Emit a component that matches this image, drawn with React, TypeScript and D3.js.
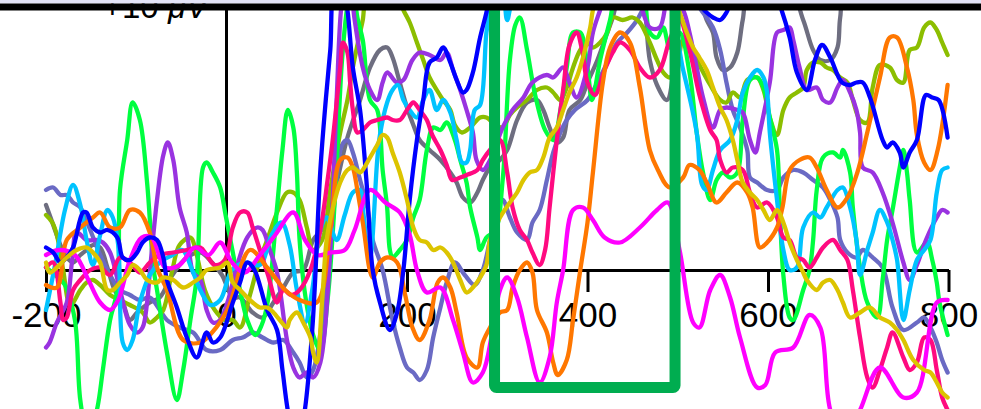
import React, { useEffect, useRef } from "react";
import * as d3 from "d3";

type Pt = [number, number]; // [ms, µV]

const timeTicks = [-200, 0, 200, 400, 600, 800];
const scaleLabel = "+10 ";
const scaleUnit = "μV";
const boxWindow = [297, 497];
const boxFloor = -4.7;

const gray: Pt[] = [[-200,2.6],[-192,1.8],[-184,1],[-177,0.5],[-170,0.3],[-162,0.6],[-155,0.8],[-148,1],[-140,0.9],[-132,0.1],[-124,-0.8],[-115,-1.3],[-107,-2],[-99,-1.7],[-85,-1.3],[-74,-1.1],[-60,-0.2],[-44,0.5],[-29,0.7],[-16,0.3],[-5,-0.2],[7,-1.1],[15,-1.1],[29,-1.7],[40,-1.9],[52,-1.3],[63,-0.7],[74,-0.1],[85,0],[96,1.2],[107,1.7],[120,3.2],[134,5.3],[148,6.8],[159,8.1],[170,8.8],[178,8.9],[184,8.5],[192,7.5],[200,6.5],[207,5.8],[214,5.2],[225,4.8],[237,4.4],[248,3.9],[255,3.5],[262,2.9],[270,2.7],[278,3.1],[284,3.6],[292,4.1],[303,4.4],[311,4.8],[322,6],[333,6.7],[344,6.8],[351,6.4],[358,5.7],[366,5.1],[373,5.3],[380,6.4],[392,6.8],[400,7.5],[411,8.4],[422,9.5],[428,10.1],[441,11.6],[458,11.2],[469,8.4],[477,7.4],[488,6.8],[497,8.4],[508,11.2],[524,10.8],[532,10],[539,9.5],[543,8.5],[550,8],[558,8.1],[566,8.7],[572,10],[580,11.2],[624,11.2],[639,10],[650,8.8],[658,8.4],[669,8.4],[677,8.9],[680,10.1],[689,11.6],[799,12]];

const slate: Pt[] = [[-200,3.2],[-192,3.3],[-184,3],[-177,3],[-170,2.7],[-162,2.5],[-151,1.6],[-140,0.6],[-129,-0.2],[-118,-0.8],[-107,-1],[-96,-1.2],[-85,-1.1],[-74,-1.6],[-66,-2],[-52,-2.3],[-37,-2.5],[-22,-3.2],[-7,-3.2],[7,-2.8],[18,-2.7],[29,-2.5],[40,-2.7],[52,-2.9],[63,-2.8],[74,-3.3],[81,-3.7],[89,-4.3],[96,-4],[106,-2],[115,0.8],[122,3.6],[128,5],[134,5.2],[140,4.7],[148,3.6],[156,2.5],[162,1.2],[173,0],[184,-2],[192,-3.1],[200,-3.9],[207,-4.1],[214,-4.4],[222,-4],[229,-2.7],[237,-1.5],[244,-0.5],[253,0.3],[264,-0.2],[275,-0.6],[284,0],[292,1.2],[300,2.4],[306,2.8],[314,2.1],[322,1.5],[333,1.2],[339,1.9],[347,2.4],[355,3.6],[362,4.7],[370,5.5],[377,6],[386,6.4],[400,6.8],[411,7.5],[422,8.3],[433,9.1],[444,9.5],[455,10],[464,10.6],[480,11.4],[508,11.4],[524,10.5],[539,9.7],[547,8.8],[554,7.5],[561,6.4],[569,5.7],[577,4.8],[580,3.7],[588,3.5],[599,3.2],[610,3.2],[617,3.7],[628,4],[639,3.9],[650,3.6],[661,3.3],[669,2.8],[677,2.1],[680,1.2],[688,0.7],[698,0.5],[705,0.8],[716,0.5],[727,0.1],[738,-1.5],[750,-2.4],[765,-2.1],[773,-1.9],[780,-2.3],[787,-2.9],[793,-3.6],[799,-4.1]];

const olive: Pt[] = [[-200,2.2],[-193,1.9],[-188,1.4],[-181,0],[-173,-1.4],[-162,-0.8],[-155,-0.5],[-148,-0.4],[-140,-0.6],[-129,-1],[-118,-1.2],[-107,-1.4],[-93,-1.7],[-85,-2.1],[-77,-1.9],[-70,-1.6],[-60,0],[-52,1],[-40,1.3],[-33,0.6],[-24,-0.8],[-13,-1.6],[-2,-2],[7,-2],[15,-2.3],[26,-1],[35,0.2],[45,1.2],[56,2.3],[67,3.1],[74,3.1],[81,2.8],[89,1.7],[96,0.8],[106,1.2],[115,3.2],[126,5.5],[134,6.8],[140,8.1],[148,9.5],[151,10],[159,11.6],[187,11.2],[196,10.4],[203,9.9],[211,9.1],[218,8.4],[225,7.7],[233,7.2],[240,6.8],[248,6.4],[253,5.8],[261,5.5],[270,5.7],[281,6.1],[288,6.1],[298,5.8],[306,5.7],[314,6.2],[322,6.5],[333,6.8],[344,7.2],[355,7.3],[362,7.1],[370,6.8],[377,7.3],[384,8.1],[392,8.8],[400,9.1],[406,8.9],[414,9.1],[422,9.5],[428,10.1],[439,10],[450,10.1],[458,9.9],[469,9.1],[477,8.4],[484,7.9],[491,7.7],[499,8.1],[506,9.2],[513,9],[524,8.2],[536,7.4],[547,6.8],[554,6.7],[561,7.1],[569,6.9],[577,7.6],[588,7.7],[595,7.2],[602,6.1],[610,5.4],[617,6.4],[624,6.9],[632,7.1],[639,7.3],[643,8],[650,8.3],[658,8.3],[665,8.1],[672,8],[680,7.7],[688,7.5],[694,6.8],[702,6],[710,5.9],[716,7.3],[724,8.2],[735,8.1],[743,7.6],[750,7.5],[757,8.8],[765,8.9],[773,9.7],[780,9.9],[787,9.6],[793,9.1],[799,8.6]];

const green: Pt[] = [[-200,0.1],[-190,-0.2],[-179,-0.6],[-168,-2],[-162,-5.2],[-153,-6.8],[-143,-5.5],[-137,-4],[-129,-2],[-121,-0.8],[-118,3.2],[-110,5.2],[-104,6.7],[-96,6],[-88,3.5],[-81,0.1],[-77,-0.8],[-66,-3.3],[-55,-5.2],[-48,-4],[-40,-2],[-33,-0.3],[-26,4.1],[-22,4.3],[-15,3.9],[-7,3.3],[-1,2.2],[7,0.7],[15,-0.8],[23,-2],[32,-2.6],[39,-2.2],[46,-1.2],[56,2.5],[62,4.8],[68,6.4],[74,5.7],[78,3.9],[81,1.2],[88,-1.2],[96,-2.6],[104,-3.2],[112,-1.2],[120,2.8],[128,8.4],[134,10.6],[139,11.6],[145,10.1],[151,9.2],[159,6.8],[167,6.4],[173,4],[178,2.5],[181,0.8],[184,0.5],[192,0.8],[200,1.2],[207,2.1],[214,2.8],[222,4.8],[229,5.7],[237,5.6],[244,5.9],[253,5.2],[259,4.4],[266,3.5],[270,2.5],[278,1.3],[281,0.8],[288,1.3],[298,1.6],[306,3.6],[314,8.4],[320,9.8],[325,10.1],[333,8.8],[342,7],[353,5.6],[362,5.2],[370,6.4],[377,8.1],[384,9.5],[392,9.5],[400,8.1],[405,6.8],[414,8.4],[425,10],[436,11.6],[458,11.6],[469,9.5],[477,9.3],[484,9.7],[491,8.9],[502,9.5],[513,7.9],[521,5.5],[528,3.9],[536,2.8],[543,3.6],[550,3.9],[558,3.7],[566,3.9],[572,6],[580,7.6],[588,7.7],[595,7.3],[602,6.1],[610,4.8],[613,2.5],[617,-0.2],[624,-1.9],[628,-2],[639,-0.8],[646,0],[650,1.2],[654,3.2],[661,4.5],[672,4.7],[680,4.5],[683,4.8],[691,3.9],[694,2.5],[702,0.1],[710,-1.3],[721,-1.9],[727,-0.4],[732,1.2],[738,2.4],[746,4.1],[750,4.8],[754,3.9],[757,2.8],[765,0.7],[776,1.1],[782,0.4],[787,-0.5],[790,-1.3],[799,-2.6]];

const purple: Pt[] = [[-200,-3.1],[-196,-2.9],[-188,-2.1],[-177,-1.3],[-171,0.4],[-166,1.5],[-155,1.2],[-143,1.2],[-137,1.1],[-129,0.7],[-118,-0.8],[-107,-2.2],[-99,-2.5],[-93,-2.3],[-88,-1.3],[-85,-0.1],[-77,2.8],[-70,4.6],[-65,5.1],[-59,4.4],[-52,2.5],[-44,1.5],[-37,-0.1],[-29,-0.4],[-22,-1.6],[-15,-2.1],[-7,-2],[1,-1.3],[12,0.2],[23,1.3],[34,1.7],[40,1.6],[48,0.8],[56,-0.1],[67,-2.8],[74,-3.9],[81,-4.3],[89,-4.1],[96,-4.3],[104,-3.7],[115,0.8],[122,6.8],[128,10.8],[135,12],[142,10],[151,8.1],[159,7.2],[167,6.8],[173,7.5],[178,7.9],[189,7.5],[196,7.6],[206,8.4],[214,8.7],[225,8.6],[237,8.4],[244,8.7],[251,8],[259,7.2],[266,6.4],[273,5.5],[277,4.4],[284,4],[292,4.4],[306,5.7],[317,6.4],[329,6.9],[339,7.5],[355,7.8],[362,7.7],[373,8.1],[380,7.5],[388,6.9],[400,8.1],[406,9.5],[414,10.4],[430,12],[453,11.2],[469,9.7],[480,9.7],[491,11.2],[506,10.4],[513,9.5],[521,8.1],[528,6.9],[539,5.7],[547,6.4],[554,6.5],[566,6.4],[572,6.3],[580,5.2],[586,4.7],[591,5.5],[602,7.5],[610,9.5],[617,9.6],[624,9.7],[628,9.2],[635,8.1],[643,7.2],[654,7.3],[661,6.8],[669,6.7],[677,7.3],[683,7.6],[691,7.1],[698,6.4],[702,5.5],[705,4.1],[716,3.9],[727,3.1],[738,1.9],[750,0.3],[757,-0.4],[765,0.2],[775,1.2],[787,2.1],[793,2.4],[799,2.3]];

const sky: Pt[] = [[-200,-1.6],[-190,0.2],[-179,2.4],[-170,3.4],[-162,2.6],[-155,1.2],[-148,0.2],[-140,1.4],[-132,2.4],[-126,2.1],[-120,1],[-115,-2.9],[-110,-3.2],[-104,-2.8],[-96,-1.3],[-85,-0.2],[-74,0.3],[-60,0.6],[-49,0.8],[-38,0],[-29,-0.8],[-18,-1.4],[-7,-1.2],[6,0],[20,0.3],[37,0.2],[50,1.4],[61,1.9],[70,1],[78,-0.8],[87,-2.1],[95,-0.8],[104,1.6],[111,2.1],[122,1.2],[131,2.2],[140,3.1],[148,3.2],[151,2.5],[156,0.9],[159,0.5],[167,4.4],[170,5.4],[178,6.7],[184,7.2],[190,7.4],[196,6.8],[203,6.4],[211,6.1],[218,6.8],[225,7.2],[233,6.4],[240,6.8],[248,6.3],[255,5.2],[261,4.3],[266,4.3],[270,4.8],[275,6.4],[281,6.6],[288,9.5],[292,10.4],[298,11.6],[306,11.2],[311,10],[317,10.8],[347,12.4],[414,12.4],[480,11.6],[506,8],[521,5.5],[527,3.4],[532,3.2],[539,4],[547,4.8],[558,5.2],[566,6],[572,7.1],[580,7.7],[588,8],[595,7.7],[599,7.1],[602,5.5],[610,2.8],[617,0.8],[624,0],[632,0.1],[639,1.7],[650,2.3],[658,2.1],[665,2.5],[677,3.2],[683,3.3],[691,2.5],[698,1.2],[702,-0.2],[710,0.8],[716,1.5],[724,2.4],[732,1.9],[738,1.2],[743,0.4],[750,-2],[757,-0.8],[765,0.4],[773,0.8],[780,1.2],[787,3.1],[793,4],[799,4.1]];

const pink: Pt[] = [[-200,0.1],[-192,0.3],[-184,-1.3],[-181,-2],[-177,-1.9],[-170,-0.8],[-162,-0.4],[-151,0],[-140,0.1],[-129,-0.2],[-118,0.5],[-107,0.3],[-96,-0.1],[-85,0.3],[-74,0.6],[-59,0.7],[-44,0.8],[-29,0.9],[-22,0.6],[-13,0.2],[-2,0.4],[7,1.7],[15,2.3],[23,2.3],[29,1.7],[37,0.8],[46,-0.2],[56,-1.3],[63,-0.8],[72,-1],[81,-0.8],[93,0],[104,1.6],[112,3.6],[118,5.3],[126,8.1],[129,9.1],[134,8.7],[137,7.5],[140,6.4],[145,5.5],[151,5.6],[159,5.9],[167,6],[178,6.1],[184,6],[192,6],[200,6.4],[207,6.7],[214,6.4],[222,6],[228,5.4],[237,4.8],[244,4.2],[250,3.6],[259,3.7],[266,3.8],[278,4],[284,4.4],[292,4.8],[303,5.2],[311,3.9],[317,2.5],[325,1.6],[333,1.2],[339,0.7],[347,0.2],[353,0.8],[358,2.5],[366,5.2],[373,7.2],[380,9],[388,9.5],[394,8.8],[400,7.5],[408,7],[419,8],[428,8.7],[436,9.1],[447,8.8],[458,8.1],[469,7.7],[480,8],[491,9.2],[502,10],[513,8.8],[524,7],[536,5.6],[543,5.2],[547,4.4],[554,3.9],[561,4.1],[572,4],[580,3.1],[588,2.5],[599,2.7],[610,2.1],[617,1.3],[624,1.2],[632,0.5],[639,0.4],[646,0.1],[654,0.5],[661,0.9],[672,1.2],[680,0.8],[688,0.4],[694,-0.8],[702,-2.7],[710,-4.3],[716,-4.7],[724,-4],[732,-3.1],[738,-2.5],[750,-3.5],[757,-4],[765,-3.7],[773,-2.7],[780,-2.8],[787,-4],[793,-5.1],[799,-5.6]];

const orange: Pt[] = [[-200,-0.6],[-188,-0.7],[-177,1.2],[-162,1.7],[-148,2.1],[-140,2.3],[-129,1.7],[-118,1.7],[-107,2.4],[-96,2.3],[-85,1.5],[-77,0.1],[-66,-0.8],[-48,-2.8],[-29,-2.9],[-16,-2.5],[1,-1.6],[26,0.8],[45,0.1],[65,-0.8],[81,-1.2],[100,-1.3],[115,1.6],[126,4.4],[134,4.5],[140,4.1],[145,3.2],[151,1.9],[162,-0.3],[170,0.3],[178,0.5],[189,0.3],[198,-1],[206,-2.3],[214,-2.8],[225,-2],[234,-0.5],[240,-0.3],[248,-0.7],[255,-1.7],[266,-3.5],[278,-3.9],[284,-2.9],[292,-2.3],[303,-1.7],[311,-1.6],[317,-0.7],[325,0],[333,0.3],[339,-0.1],[344,-1.6],[355,-2.5],[362,-3.7],[367,-4.2],[377,-3.6],[384,-2],[392,0],[400,1.9],[406,3.9],[417,7.5],[425,8.9],[436,9.5],[447,9.1],[458,7.3],[469,4.8],[478,4],[491,3.3],[506,3.7],[513,4.2],[524,4],[532,3.5],[543,2.7],[554,3.1],[566,3.5],[577,3.1],[583,2.5],[591,0.9],[599,1.1],[610,1.7],[616,2.5],[624,4],[635,4.4],[646,4.5],[654,4.1],[665,3.2],[677,2.5],[688,2.9],[699,3.9],[710,5.5],[724,7.7],[735,9.3],[743,9.3],[754,8.1],[761,6.8],[765,5.4],[773,4.3],[780,4],[788,4.8],[799,7.4]];

const magenta: Pt[] = [[-200,0.6],[-185,0.8],[-168,0.6],[-153,-0.4],[-140,-1.3],[-129,-1.6],[-120,-1.2],[-107,0.4],[-94,1.3],[-83,1.3],[-68,0.1],[-52,0.2],[-35,0.9],[-20,0.6],[-7,1.1],[6,0.3],[20,-0.1],[37,0.6],[54,1.4],[74,2.3],[87,1.2],[101,0.6],[115,0.7],[131,0.8],[142,1.6],[159,3.2],[176,2.7],[192,2.3],[203,1.4],[211,0],[222,-0.9],[237,-0.7],[251,-2],[262,-3.3],[273,-4.5],[284,-4.1],[294,-2.6],[303,-0.8],[311,-0.3],[322,-1.1],[333,-2.7],[347,-4.5],[358,-3.5],[366,-1.3],[373,0],[384,2.4],[395,2.5],[406,2],[419,1.3],[436,1.1],[458,1.7],[477,2.4],[489,2.7],[502,0.8],[517,-2.1],[524,-2.3],[536,-0.8],[547,-0.2],[558,-1.1],[569,-2.7],[588,-4.7],[597,-4.6],[608,-3.3],[628,-3.1],[646,-1.8],[658,-2.3],[669,-5.6],[685,-6.8],[702,-5.6],[724,-3.9],[750,-5.1],[765,-4.9],[787,-1.3],[799,-1.2]];

const blue: Pt[] = [[-200,0.9],[-192,0.7],[-184,0.3],[-177,0.5],[-170,0.9],[-159,2.3],[-155,2.3],[-148,1.7],[-140,1.5],[-132,1.6],[-121,1.3],[-115,0.5],[-107,0.4],[-99,0.7],[-93,1.1],[-85,1.3],[-77,1.2],[-70,0.5],[-66,-0.4],[-55,-1.5],[-44,-2.7],[-33,-3.5],[-22,-2.5],[-15,-2.9],[-7,-2.7],[7,-1.3],[15,-0.5],[23,0.3],[31,0],[45,-1.6],[56,-2.4],[62,-4],[70,-6],[78,-6.8],[85,-6],[95,-2.4],[104,4],[110,6.8],[115,8.8],[121,11.6],[128,11.6],[134,10.4],[140,8.1],[148,6.4],[155,3.6],[162,0],[170,-1.3],[181,-2.4],[189,-1.7],[196,0],[203,2.8],[211,5.2],[218,6.8],[225,8.3],[233,8.5],[240,8.9],[248,8.3],[255,7.6],[262,7.1],[266,7.2],[273,7.9],[281,9.3],[288,10.3],[298,12],[358,13.2],[469,12.4],[524,10.6],[532,10.3],[539,10.1],[547,10],[554,10.3],[569,11.6],[602,11.6],[615,10.4],[624,9.3],[632,7.9],[643,7.2],[652,8.4],[660,9],[669,8.5],[682,7.5],[691,7.4],[698,7.5],[705,7.5],[713,6.9],[727,5.2],[732,4.9],[738,5.1],[746,4.7],[750,4.1],[757,4.7],[765,5.2],[775,7],[782,6.9],[789,6.8],[799,5.3]];

const yellow: Pt[] = [[-200,0.3],[-196,-0.1],[-188,0.1],[-177,0.5],[-166,0.8],[-155,0.9],[-148,0.7],[-140,0.3],[-132,-0.8],[-126,-0.8],[-118,-0.5],[-110,-0.2],[-104,0.2],[-96,0],[-88,-0.4],[-77,-0.5],[-70,-0.3],[-59,-0.4],[-48,-0.7],[-37,-0.5],[-29,-0.3],[-22,0],[-7,0.1],[1,0.3],[7,-0.5],[15,-0.8],[23,-1.1],[29,-1.3],[37,-1.5],[45,-1.5],[52,-1.7],[59,-2],[67,-2.3],[70,-2],[78,-1.7],[85,-2.1],[93,-2.7],[96,-3.3],[100,-3.7],[106,-1.2],[111,1.2],[118,2.5],[126,3.5],[134,4],[140,4.1],[148,3.9],[151,4],[159,4.5],[167,5],[173,5.4],[178,5.3],[184,4.7],[192,3.9],[200,2.8],[207,1.7],[214,1.2],[222,1.1],[229,0.8],[237,0.9],[244,0.7],[251,0.3],[259,-0.4],[266,-0.9],[273,-0.7],[281,-0.3],[288,0.2],[292,1.2],[303,2.1],[314,2.7],[322,3.1],[329,3.6],[336,3.9],[344,4],[351,4.5],[358,5.3],[366,5.7],[373,6.4],[380,7.1],[388,7.7],[395,8.5],[403,9.7],[406,10.4],[419,12],[480,12],[499,10.6],[506,9.9],[510,9.5],[517,8.9],[524,8.5],[532,8],[539,7.3],[547,6.5],[554,6],[561,5.2],[566,4.4],[572,3.5],[580,3.1],[588,2.8],[595,2.4],[602,2],[610,2.4],[617,1.9],[624,1.1],[632,0.4],[639,-0.1],[643,-0.4],[654,-0.8],[661,-0.5],[669,-0.4],[677,-0.8],[683,-1.3],[691,-1.9],[702,-1.7],[713,-1.5],[724,-1.9],[735,-2.1],[743,-2.4],[750,-2.8],[761,-3.6],[773,-4],[780,-4.1],[787,-4.5],[793,-4.9],[799,-5.1]];

const series = [
  { values: gray, color: "#6e6e80" },
  { values: slate, color: "#6a6ac4" },
  { values: olive, color: "#8cbe00" },
  { values: green, color: "#00ff40" },
  { values: purple, color: "#9933e0" },
  { values: sky, color: "#00c3ff" },
  { values: pink, color: "#ff0a80" },
  { values: orange, color: "#ff7700" },
  { values: magenta, color: "#ff00ff" },
  { values: blue, color: "#0000ff" },
  { values: yellow, color: "#dcc400" },
];

const FONT = "'Liberation Sans', Arial, Helvetica, sans-serif";

export default function App() {
  const svgRef = useRef<SVGSVGElement>(null);

  useEffect(() => {
    const width = 981;
    const height = 409;
    const svg = d3.select(svgRef.current);
    svg.selectAll("*").remove();

    const x = d3.scaleLinear().domain([-200, 800]).range([46, 948.5]);
    const y = d3.scaleLinear().domain([-5.6, 10.4]).range([410, 10]);

    svg.append("defs").append("clipPath").attr("id", "erp-clip")
      .append("rect")
      .attr("x", 0).attr("y", y(10.4))
      .attr("width", width).attr("height", height);

    // x axis
    const xAxis = svg.append("g")
      .attr("transform", `translate(0,${y(0)})`)
      .call(d3.axisBottom(x)
        .tickValues(timeTicks)
        .tickSize(22)
        .tickSizeOuter(0)
        .tickPadding(10)
        .tickFormat(d => String(d)));
    xAxis.select(".domain").attr("stroke", "#000").attr("stroke-width", 3);
    xAxis.selectAll(".tick line").attr("stroke", "#000").attr("stroke-width", 3);
    xAxis.selectAll(".tick text")
      .attr("fill", "#000")
      .attr("font-size", 35)
      .attr("font-family", FONT);

    // y axis (bare line)
    svg.append("line")
      .attr("x1", x(0)).attr("x2", x(0))
      .attr("y1", y(0) + 1.5).attr("y2", y(10.4))
      .attr("stroke", "#000").attr("stroke-width", 3);

    // scale label, partly hidden under the top frame like the original
    const lbl = svg.append("text")
      .attr("x", 208).attr("y", 18)
      .attr("text-anchor", "end")
      .attr("font-size", 33)
      .attr("font-family", FONT)
      .attr("fill", "#000");
    lbl.append("tspan").text(scaleLabel);
    lbl.append("tspan").attr("font-style", "italic").text(scaleUnit);

    // traces
    const line = d3.line<Pt>()
      .x(d => x(d[0]))
      .y(d => y(d[1]))
      .curve(d3.curveCatmullRom.alpha(0.5));

    const g = svg.append("g").attr("clip-path", "url(#erp-clip)");
    series.forEach(s => {
      g.append("path")
        .attr("d", line(s.values))
        .attr("fill", "none")
        .attr("stroke", s.color)
        .attr("stroke-width", 4.3)
        .attr("stroke-linejoin", "round")
        .attr("stroke-linecap", "round");
    });

    // analysis window
    g.append("rect")
      .attr("x", x(boxWindow[0]))
      .attr("y", y(12))
      .attr("width", x(boxWindow[1]) - x(boxWindow[0]))
      .attr("height", y(boxFloor) - y(12))
      .attr("rx", 2)
      .attr("fill", "none")
      .attr("stroke", "#00ad50")
      .attr("stroke-width", 11)
      .attr("stroke-linejoin", "round");

    // top frame strip
    svg.append("rect").attr("x", 0).attr("y", 0).attr("width", width).attr("height", 3.5).attr("fill", "#e3e3f7");
    svg.append("rect").attr("x", 0).attr("y", 3.5).attr("width", width).attr("height", 7).attr("fill", "#000");
  }, []);

  return (
    <svg
      ref={svgRef}
      width={981}
      height={409}
      style={{ position: "fixed", top: 0, left: 0, background: "#fff" }}
    />
  );
}
